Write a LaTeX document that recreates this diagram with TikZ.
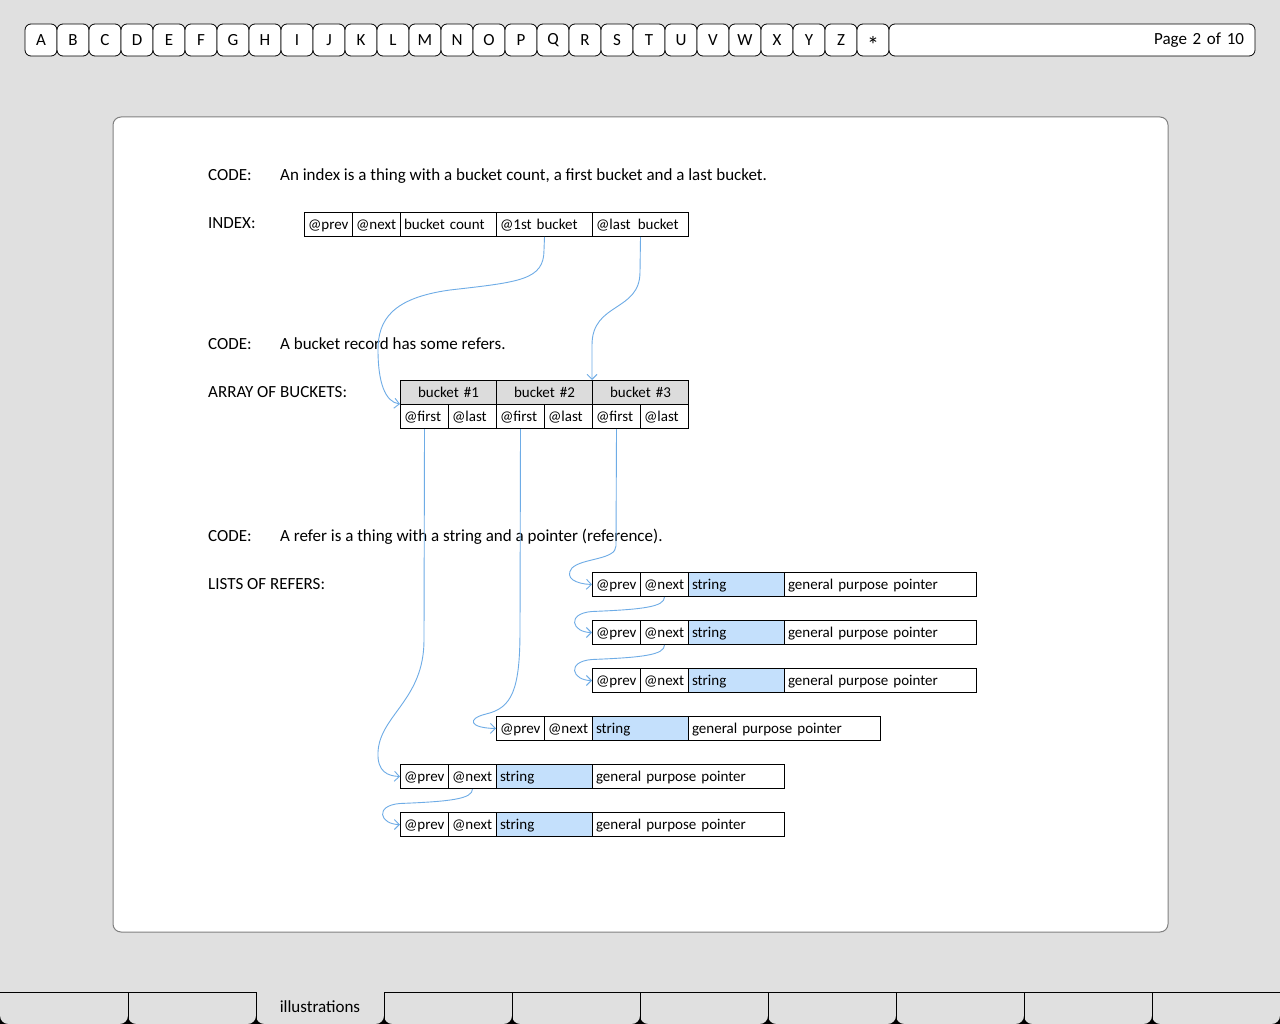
\documentclass[tikz,border=0pt]{standalone}
\usepackage{fontspec}
\setmainfont{Carlito}
\usetikzlibrary{arrows.meta}

\definecolor{pagegray}{RGB}{224,224,224}
\definecolor{paneledge}{RGB}{128,128,128}
\definecolor{headgray}{RGB}{220,220,220}
\definecolor{strblue}{RGB}{196,224,252}
\definecolor{linkblue}{RGB}{110,172,230}

\newcommand\txt{\fontsize{17}{19}\selectfont}
\newcommand\celltxt{\fontsize{15}{17}\selectfont}

% one record of a refer list: @prev | @next | string | pointer
\newcommand\referrow[3]{%
  \node[cell,w48] (#1-prev) at (#2,#3) {@prev};
  \node[cell,w48] (#1-next) at (#2+48,#3) {@next};
  \node[cell,w96,strcell] (#1-str) at (#2+96,#3) {string};
  \node[cell,w192] (#1-ptr) at (#2+192,#3) {general purpose pointer};}

\begin{document}
\begin{tikzpicture}[x=1pt,y=-1pt,
  tab/.style={draw=black, line width=0.8pt, fill=white, rounded corners=6pt,
    minimum width=32pt, minimum height=32pt, inner sep=0pt, font=\txt},
  cell/.style={draw=black, line width=1pt, anchor=north west, minimum height=24pt,
    inner xsep=3.5pt, inner ysep=0pt, text height=12pt, text depth=2pt,
    align=left, font=\celltxt},
  w48/.style={minimum width=48pt, text width=41pt},
  w96/.style={minimum width=96pt, text width=89pt},
  w192/.style={minimum width=192pt, text width=185pt},
  headcell/.style={fill=headgray, align=center},
  strcell/.style={fill=strblue},
  lbl/.style={anchor=west, inner sep=0pt, text height=12pt, text depth=2pt, font=\txt},
  link/.style={draw=linkblue, line width=0.9pt,
    -{Straight Barb[length=5pt,width=10pt]}},
]
\useasboundingbox (0,0) rectangle (1280,1024);
\fill[pagegray] (0,0) rectangle (1280,1024);

% ---- letter tabs along the top
\foreach \l [count=\i from 0] in {A,B,C,D,E,F,G,H,I,J,K,L,M,N,O,P,Q,R,S,T,U,V,W,X,Y,Z}
  \node[tab] (tab-\i) at ({41+32*\i},40) {\l};
\node[tab, text height=8pt, text depth=0pt] (tab-26) at (873,40)
  {\raisebox{-10pt}{\fontsize{24}{24}\selectfont *}};
\node[tab, minimum width=366pt, text width=344pt, align=right] (pagebox) at (1072,40) {Page 2 of 10};

% ---- white sheet
\draw[paneledge, fill=white, line width=1pt, rounded corners=8pt] (113,117) rectangle (1168,932);

% ---- index
\node[lbl] (code1) at (208,176) {CODE:};
\node[lbl] (code1txt) at (280,176) {An index is a thing with a bucket count, a first bucket and a last bucket.};
\node[lbl] (indexlbl) at (208,224) {INDEX:};
\node[cell,w48]  (idx-prev)  at (304,212) {@prev};
\node[cell,w48]  (idx-next)  at (352,212) {@next};
\node[cell,w96]  (idx-count) at (400,212) {bucket count};
\node[cell,w96]  (idx-first) at (496,212) {@1st bucket};
\node[cell,w96]  (idx-last)  at (592,212) {@last\hspace{7pt}bucket};

% ---- buckets
\node[lbl] (code2) at (208,344) {CODE:};
\node[lbl] (code2txt) at (280,344) {A bucket record has some refers.};
\node[lbl] (arraylbl) at (208,392) {ARRAY OF BUCKETS:};
\foreach \b/\x in {1/400,2/496,3/592}{
  \node[cell,w96,headcell] (bk\b-head) at (\x,380) {bucket \#\b};
  \node[cell,w48] (bk\b-first) at (\x,404) {@first};
  \node[cell,w48] (bk\b-last) at (\x+48,404) {@last};
}

% ---- refers
\node[lbl] (code3) at (208,536) {CODE:};
\node[lbl] (code3txt) at (280,536) {A refer is a thing with a string and a pointer (reference).};
\node[lbl] (listslbl) at (208,584) {LISTS OF REFERS:};
\referrow{ra}{592}{572}
\referrow{rb}{592}{620}
\referrow{rc}{592}{668}
\referrow{rd}{496}{716}
\referrow{re}{400}{764}
\referrow{rf}{400}{812}

% ---- pointers
\draw[link] (idx-first.south) -- (544,250)
  .. controls (544,280) and (520,282) .. (450,290)
  .. controls (392,298) and (378,320) .. (378,350)
  .. controls (378,382) and (385,402) .. (bk1-first.north west);
\draw[link] (idx-last.south) -- (640,272)
  .. controls (640,312) and (592,302) .. (592,345)
  -- (bk3-head.north west);
\draw[link] (bk1-first.south) -- (424,640)
  .. controls (424,700) and (380,715) .. (378,752)
  .. controls (377,772) and (388,776) .. (re-prev.west);
\draw[link] (bk2-first.south) -- (520,630)
  .. controls (520,690) and (512,708) .. (486,714)
  .. controls (466,719) and (470,728) .. (rd-prev.west);
\draw[link] (bk3-first.south) -- (616,546)
  .. controls (616,560) and (582,558) .. (572,568)
  .. controls (564,578) and (576,584) .. (ra-prev.west);
\foreach \a/\b in {ra/rb,rb/rc,re/rf}
  \draw[link] (\a-next.south)
    .. controls +(0,10) and +(50,-2) .. ([yshift=21pt]\b-prev.west)
    .. controls +(-26,2) and +(-20,0) .. (\b-prev.west);

% ---- section tabs along the bottom
\draw[black, line width=1pt] (0,992) -- (256,992) (384,992) -- (1280,992);
\foreach \x in {128,256,...,1152}
  \draw[black, line width=1pt] (\x,992) -- (\x,1024);
\foreach \x in {0,128,...,1280}
  \fill[black] (\x-8,1024) .. controls (\x-3.6,1024) and (\x,1020.4) .. (\x,1016)
    .. controls (\x,1020.4) and (\x+3.6,1024) .. (\x+8,1024) -- cycle;
\node[lbl, anchor=center] (illus) at (320,1007) {illustrations};
\end{tikzpicture}
\end{document}
